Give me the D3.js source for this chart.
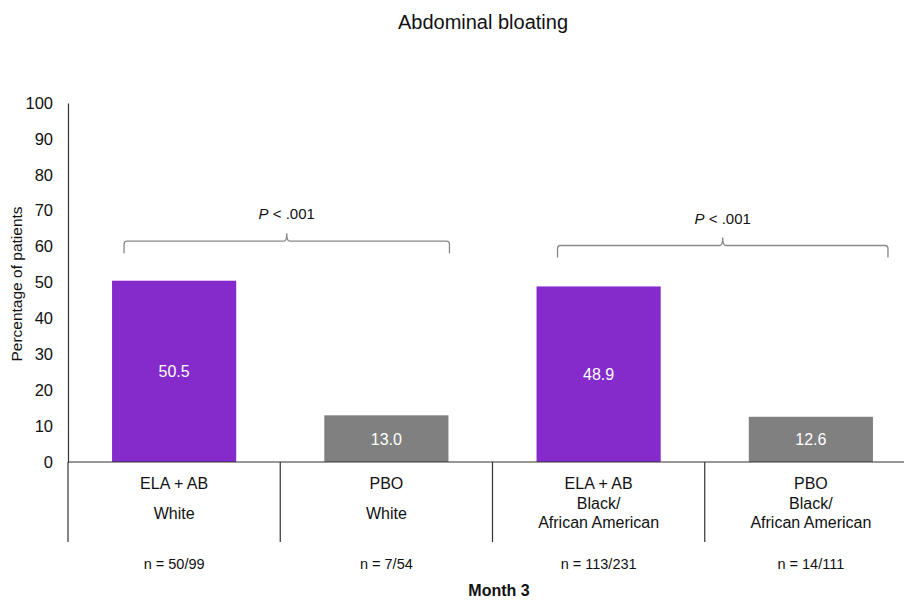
<!DOCTYPE html>
<html><head><meta charset="utf-8">
<script src="https://cdn.jsdelivr.net/npm/d3@7"></script>
<style>body{margin:0;background:#fff}svg{display:block}text{font-family:"Liberation Sans",Arial,sans-serif}</style>
</head><body>
<svg id="c" width="904" height="601"></svg>
<script>
const categories = ["ELA + AB|White", "PBO|White", "ELA + AB|Black/ African American", "PBO|Black/ African American"];
const treatments = ["ELA + AB", "PBO", "ELA + AB", "PBO"];
const groupLines = [["White"], ["White"], ["Black/", "African American"], ["Black/", "African American"]];
const values = [50.5, 13.0, 48.9, 12.6];
const nLabels = ["n = 50/99", "n = 7/54", "n = 113/231", "n = 14/111"];
const yTicks = [0, 10, 20, 30, 40, 50, 60, 70, 80, 90, 100];
const comparisons = [{from: 0, to: 1, label: ".001", level: 61.5}, {from: 2, to: 3, label: ".001", level: 60.3}];
const colors = ["#852bcb", "#808080", "#852bcb", "#808080"];

const svg = d3.select("#c");
const x = d3.scaleBand().domain(categories).range([68, 917]).padding(0);
const y = d3.scaleLinear().domain([0, 100]).range([462, 103]);
const bw = x.bandwidth() * 0.585;
const cx = i => x(categories[i]) + x.bandwidth() / 2;

svg.append("text").attr("x", 483).attr("y", 29).attr("text-anchor", "middle")
  .attr("font-size", 20).attr("fill", "#111").text("Abdominal bloating");

// Y axis
const yAxis = d3.axisLeft(y).tickValues(yTicks).tickSize(0).tickPadding(15);
const ga = svg.append("g").attr("transform", "translate(68,0)").call(yAxis);
ga.select(".domain").attr("stroke", "#333").attr("stroke-width", 1.2);
ga.selectAll("text").attr("font-size", 16.5).attr("fill", "#111").attr("font-family", "Liberation Sans, Arial, sans-serif");

svg.append("text").attr("transform", "translate(22,284) rotate(-90)").attr("text-anchor", "middle")
  .attr("font-size", 15.5).attr("fill", "#111").text("Percentage of patients");

// bars
svg.selectAll("rect.bar").data(values).join("rect").attr("class", "bar")
  .attr("x", (d, i) => cx(i) - bw / 2).attr("width", bw)
  .attr("y", d => y(d)).attr("height", d => y(0) - y(d))
  .attr("fill", (d, i) => colors[i]);
svg.selectAll("text.val").data(values).join("text").attr("class", "val")
  .attr("x", (d, i) => cx(i)).attr("y", d => (y(d) + y(0)) / 2 + 6)
  .attr("text-anchor", "middle").attr("font-size", 16).attr("fill", "#fff")
  .text(d => d.toFixed(1));

// category axis
svg.append("line").attr("x1", 68).attr("x2", 904).attr("y1", y(0)).attr("y2", y(0)).attr("stroke", "#333").attr("stroke-width", 1.2);
categories.forEach((c, i) => {
  svg.append("line").attr("x1", x(c)).attr("x2", x(c)).attr("y1", y(0)).attr("y2", 542).attr("stroke", "#333").attr("stroke-width", 1.2);
  svg.append("text").attr("x", cx(i)).attr("y", 489).attr("text-anchor", "middle").attr("font-size", 16).attr("fill", "#111").text(treatments[i]);
  const gl = groupLines[i];
  const startY = gl.length === 1 ? 519 : 509;
  gl.forEach((t, j) => svg.append("text").attr("x", cx(i)).attr("y", startY + j * 19).attr("text-anchor", "middle").attr("font-size", 16).attr("fill", "#111").text(t));
  svg.append("text").attr("x", cx(i)).attr("y", 569).attr("text-anchor", "middle").attr("font-size", 14.5).attr("fill", "#111").text(nLabels[i]);
});
svg.append("text").attr("x", 499).attr("y", 596).attr("text-anchor", "middle").attr("font-size", 16).attr("font-weight", "bold").attr("fill", "#111").text("Month 3");

// brackets
comparisons.forEach((cmp, k) => {
  const x1 = cx(cmp.from) - bw / 2 + (k === 0 ? 12 : 21);
  const x2 = cx(cmp.to) + bw / 2 + (k === 0 ? 1 : 15);
  const ly = y(cmp.level);
  const m = (x1 + x2) / 2;
  const r = 3;
  const p = `M${x1},${ly + 12} L${x1},${ly + r} Q${x1},${ly} ${x1 + r},${ly} L${m - r},${ly} Q${m},${ly} ${m},${ly - 8} Q${m},${ly} ${m + r},${ly} L${x2 - r},${ly} Q${x2},${ly} ${x2},${ly + r} L${x2},${ly + 12}`;
  svg.append("path").attr("d", p).attr("fill", "none").attr("stroke", "#888").attr("stroke-width", 1.3);
  const t = svg.append("text").attr("x", m).attr("y", ly - 22).attr("text-anchor", "middle").attr("font-size", 15).attr("fill", "#111");
  t.append("tspan").attr("font-style", "italic").text("P");
  t.append("tspan").text(" < " + cmp.label);
});
</script>
</body></html>
